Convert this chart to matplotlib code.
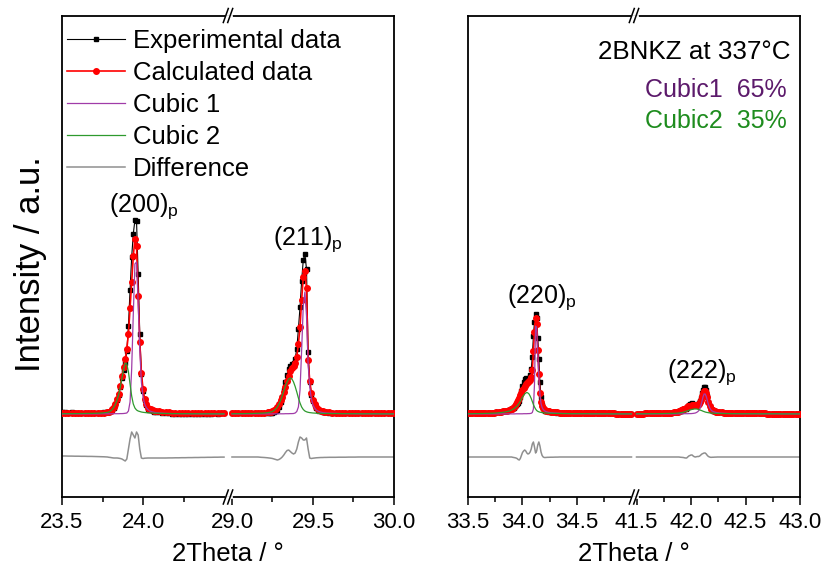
import numpy as np
import matplotlib
matplotlib.use('Agg')
import matplotlib.pyplot as plt
from matplotlib.lines import Line2D

MAIN = 'Liberation Sans'
plt.rcParams['font.family'] = [MAIN, 'DejaVu Sans']
plt.rcParams['mathtext.fontset'] = 'custom'
plt.rcParams['mathtext.rm'] = MAIN
plt.rcParams['mathtext.it'] = MAIN + ':italic'


def grid(a, b, c, d, e, f):
    return np.round(np.concatenate([np.arange(a, b + 1e-6, 0.02),
                                    np.arange(c, d + 1e-6, 0.01),
                                    np.arange(e, f + 1e-6, 0.02)]), 2)


# ---------------- data: (200) region, 23.5-24.5 ----------------
theta_200 = grid(23.50, 23.76, 23.78, 24.08, 24.10, 24.50)
exp_200 = [1.6, 1.6, 1.5, 1.6, 1.5, 1.5, 1.5, 1.5, 1.5, 1.5, 1.5, 1.5, 1.5, 1.7,
           1.9, 2.0, 2.9, 4.2, 6.4, 9.5, 14.0, 19.3, 26.8, 35.7,
           44.0, 51.0, 63.0, 88.0, 124, 157, 180, 194, 193, 140,
           80, 40, 23.5, 13.8, 8.9, 5.5, 4.5, 3.8, 3.0, 2.5, 2.2,
           1.6, 1.2, 0.9, 0.7, 0.5, 0.5, 0.4, 0.4, 0.4, 0.4, 0.4, 0.4, 0.4, 0.5, 0.4,
           0.5, 0.5, 0.6, 0.5, 0.6, 0.6]
calc_200 = [0.6, 0.6, 0.6, 0.7, 0.7, 0.7, 0.8, 0.8, 0.9, 0.9, 1.0, 1.1, 1.2, 1.5,
            1.9, 2.3, 3.4, 5.0, 7.4, 10.5, 15.0, 20.5, 28.3, 37.7,
            47.0, 55.0, 65.0, 80.0, 106, 132, 158, 175, 168, 118,
            72, 41, 25, 15, 10, 6.5, 5.5, 4.8, 4.0, 3.5, 3.2,
            2.6, 2.2, 1.9, 1.6, 1.4, 1.3, 1.2, 1.1, 1.1, 1.0, 1.0, 0.9, 0.9, 0.9, 0.8,
            0.8, 0.8, 0.8, 0.7, 0.7, 0.7]
cubic1_200 = [0.1, 0.1, 0.1, 0.1, 0.1, 0.1, 0.1, 0.1, 0.1, 0.1, 0.1, 0.1, 0.2, 0.2,
              0.2, 0.2, 0.2, 0.2, 0.3, 0.3, 0.3, 0.3, 0.4, 0.4,
              0.5, 0.7, 1.0, 3.0, 12, 45, 100, 150, 152, 112,
              64, 32, 17, 10, 6.5, 4.5, 3.2, 2.5, 2.0, 1.6, 1.3,
              1.0, 0.8, 0.6, 0.5, 0.4, 0.35, 0.3, 0.3, 0.25, 0.2, 0.2, 0.2, 0.2, 0.15, 0.15,
              0.15, 0.1, 0.1, 0.1, 0.1, 0.1]
cubic2_200 = [0.3, 0.3, 0.3, 0.4, 0.4, 0.4, 0.5, 0.5, 0.6, 0.6, 0.7, 0.8, 0.9, 1.2,
              1.6, 2.0, 3.0, 4.5, 6.8, 9.8, 14, 19.5, 27, 36,
              44.5, 51, 50, 42, 30, 18, 10, 6, 4, 3,
              2.5, 2.0, 1.7, 1.5, 1.3, 1.2, 1.1, 1.0, 0.9, 0.8, 0.8,
              0.7, 0.6, 0.5, 0.5, 0.4, 0.4, 0.35, 0.3, 0.3, 0.3, 0.25, 0.25, 0.2, 0.2, 0.2,
              0.2, 0.2, 0.15, 0.15, 0.15, 0.1]
diff_200 = [1.0, 1.0, 0.9, 0.9, 0.8, 0.8, 0.7, 0.7, 0.6, 0.6, 0.5, 0.4, 0.3, 0.2,
            0.0, -0.3, -0.5, -0.8, -1.0, -1.0, -1.0, -1.2, -1.5, -2.0,
            -3.0, -4.0, -2.0, 8.0, 18.0, 25.0, 22.0, 19.0, 25.0, 22.0,
            8.0, -1.0, -1.5, -1.2, -1.1, -1.0, -1.0, -1.0, -1.0, -1.0, -1.0,
            -1.0, -1.0, -1.0, -0.9, -0.9, -0.8, -0.8, -0.7, -0.7, -0.6, -0.6, -0.5, -0.5, -0.4, -0.4,
            -0.3, -0.3, -0.2, -0.2, -0.1, -0.1]

# ---------------- data: (211) region, 29.0-30.0 ----------------
theta_211 = grid(29.00, 29.20, 29.22, 29.58, 29.60, 30.00)
exp_211 = [0.6, 0.6, 0.6, 0.7, 0.7, 0.8, 0.8, 0.9, 1.0, 0.8, 0.7,
           0.8, 0.9, 1.1, 1.5, 2.0, 3.0, 4.5, 7.5, 12.5, 17.5,
           24.0, 32.0, 39.5, 45.0, 48.5, 50.0, 51.5, 55.5, 65.0, 85.0,
           107, 133, 154, 160, 145, 62, 32, 19.5, 12.8, 9.0,
           6.2, 4.5, 3.4, 2.7, 2.2, 1.9, 1.6,
           1.4, 1.2, 1.1, 1.1, 1.0, 0.9, 0.9, 0.9, 0.8, 0.9, 0.9, 0.8, 0.8, 0.8, 0.7,
           0.7, 0.7, 0.7, 0.6, 0.6, 0.6]
calc_211 = [0.6, 0.6, 0.6, 0.7, 0.7, 0.8, 0.8, 0.9, 1.0, 1.1, 1.2,
            1.6, 1.9, 2.3, 3.0, 4.0, 5.5, 7.5, 10.0, 14.0, 17.5,
            22.0, 27.5, 33.0, 38.0, 43.0, 46.0, 48.5, 51.5, 57.0, 70.0,
            87, 114, 137, 143, 126, 54, 33, 21, 14, 10,
            7.0, 5.2, 4.0, 3.2, 2.7, 2.3, 2.0,
            1.7, 1.5, 1.4, 1.3, 1.2, 1.1, 1.0, 1.0, 0.9, 0.9, 0.9, 0.8, 0.8, 0.8, 0.7,
            0.7, 0.7, 0.7, 0.6, 0.6, 0.6]
cubic1_211 = [0.1, 0.1, 0.1, 0.1, 0.1, 0.1, 0.1, 0.1, 0.1, 0.1, 0.1,
              0.1, 0.1, 0.1, 0.1, 0.1, 0.1, 0.2, 0.2, 0.2, 0.2,
              0.2, 0.3, 0.3, 0.3, 0.4, 0.4, 0.5, 1.0, 2.5, 7.0,
              24, 64, 108, 122, 98, 50, 27, 15, 9, 6,
              4.0, 3.0, 2.3, 1.8, 1.4, 1.2, 1.0,
              0.8, 0.7, 0.6, 0.5, 0.4, 0.35, 0.3, 0.3, 0.25, 0.2, 0.2, 0.2, 0.2, 0.15, 0.15,
              0.15, 0.1, 0.1, 0.1, 0.1, 0.1]
cubic2_211 = [0.3, 0.3, 0.3, 0.4, 0.4, 0.5, 0.5, 0.6, 0.7, 0.8, 1.0,
              1.3, 1.6, 2.0, 2.5, 3.5, 5.0, 7.0, 10.0, 13.5, 18.0,
              23, 28, 32, 35, 36, 35, 32, 27.5, 22, 16,
              11, 7, 4.5, 3.0, 2.2, 1.7, 1.4, 1.2, 1.0, 0.9,
              0.8, 0.7, 0.7, 0.6, 0.6, 0.5, 0.5,
              0.5, 0.4, 0.4, 0.4, 0.35, 0.3, 0.3, 0.3, 0.25, 0.25, 0.2, 0.2, 0.2, 0.2, 0.2,
              0.15, 0.15, 0.15, 0.1, 0.1, 0.1]
diff_211 = [0, 0, 0, 0, 0, 0, 0, 0, 0, -0.3, -0.5,
            -0.8, -1.0, -1.2, -1.5, -2.0, -2.5, -3.0, -2.5, -1.5, 0.0,
            2.0, 4.5, 6.5, 7.0, 5.5, 4.0, 3.0, 4.0, 8.0, 15.0,
            20.0, 19.0, 17.0, 17.0, 19.0, 8.0, -1.0, -1.5, -1.2, -1.0,
            -0.8, -0.7, -0.6, -0.5, -0.5, -0.4, -0.4,
            -0.3, -0.3, -0.3, -0.2, -0.2, -0.2, -0.1, -0.1, -0.1, 0, 0, 0, 0, 0, 0,
            0, 0, 0, 0, 0, 0]

# ---------------- data: (220) region, 33.5-35.0 ----------------
theta_220 = grid(33.50, 33.86, 33.88, 34.24, 34.26, 35.00)
exp_220 = [0.6, 0.6, 0.6, 0.7, 0.7, 0.8, 0.8, 0.9, 1.0, 1.1, 1.2, 1.3, 1.5, 1.7, 2.0, 2.3, 2.6, 3.0, 3.5,
           4.2, 4.6, 5.2, 5.7, 6.5, 7.8, 9.0, 10.5, 11.5, 13.5,
           17.5, 23.0, 28.5, 32.0, 35.5, 36.0, 35.0, 35.0, 36.5, 39.5,
           45.0, 57.0, 78.0, 92.0, 100.0, 96.0, 76.0, 55.0, 32.0, 17.0,
           9.5, 6.0, 4.3, 3.5, 3.0, 2.7, 2.4,
           2.1, 1.8, 1.7, 1.5, 1.5, 1.4, 1.3, 1.2, 1.1, 1.1,
           1.0, 1.0, 0.9, 0.9, 0.9, 0.8, 0.8, 0.8, 0.8, 0.7,
           0.7, 0.7, 0.7, 0.7, 0.6, 0.6, 0.6, 0.6, 0.6, 0.6,
           0.5, 0.5, 0.5, 0.5, 0.5, 0.5, 0.5, 0.5]
calc_220 = [0.6, 0.6, 0.6, 0.7, 0.7, 0.8, 0.8, 0.9, 1.0, 1.1, 1.2, 1.3, 1.5, 1.7, 2.0, 2.3, 2.6, 3.0, 3.5,
            4.2, 4.6, 5.2, 6.0, 7.0, 8.5, 10.0, 12.0, 14.0, 16.5,
            19.0, 21.5, 24.0, 26.0, 28.5, 30.0, 31.0, 32.0, 33.0, 34.5,
            37.0, 44.0, 63.0, 82.0, 96.0, 90.0, 64.0, 40.0, 21.0, 12.0,
            8.0, 6.0, 4.8, 4.0, 3.4, 3.0, 2.7,
            2.3, 2.0, 1.8, 1.6, 1.5, 1.4, 1.3, 1.2, 1.1, 1.1,
            1.0, 1.0, 0.9, 0.9, 0.9, 0.8, 0.8, 0.8, 0.8, 0.7,
            0.7, 0.7, 0.7, 0.7, 0.6, 0.6, 0.6, 0.6, 0.6, 0.6,
            0.5, 0.5, 0.5, 0.5, 0.5, 0.5, 0.5, 0.5]
cubic1_220 = [0.1, 0.1, 0.1, 0.1, 0.1, 0.1, 0.1, 0.1, 0.1, 0.1, 0.1, 0.1, 0.1, 0.1, 0.1, 0.1, 0.1, 0.1, 0.1,
              0.1, 0.1, 0.1, 0.1, 0.1, 0.1, 0.2, 0.2, 0.2, 0.2,
              0.2, 0.2, 0.2, 0.3, 0.3, 0.3, 0.3, 0.4, 0.4, 0.5,
              0.7, 1.5, 5.0, 30.0, 88.0, 86.0, 60.0, 37.0, 19.0, 10.5,
              6.5, 4.5, 3.4, 2.7, 2.2, 1.9, 1.6,
              1.3, 1.1, 0.9, 0.8, 0.7, 0.6, 0.5, 0.5, 0.4, 0.4,
              0.3, 0.3, 0.3, 0.3, 0.3, 0.3, 0.3, 0.3, 0.2, 0.2,
              0.2, 0.2, 0.2, 0.2, 0.2, 0.2, 0.2, 0.2, 0.1, 0.1,
              0.1, 0.1, 0.1, 0.1, 0.1, 0.1, 0.1, 0.1]
cubic2_220 = [0.3, 0.3, 0.3, 0.4, 0.4, 0.4, 0.5, 0.5, 0.6, 0.6, 0.7, 0.8, 0.9, 1.0, 1.2, 1.4, 1.7, 2.0, 2.5,
              3.0, 3.4, 4.0, 4.6, 5.3, 6.0, 7.0, 8.0, 9.5, 11.0,
              13, 15, 17, 18.5, 20, 21, 21.5, 21, 20, 18,
              15.5, 12.5, 9.5, 7.0, 5.0, 3.5, 2.7, 2.2, 1.8, 1.6,
              1.4, 1.3, 1.1, 1.0, 0.95, 0.9, 0.85,
              0.8, 0.7, 0.6, 0.55, 0.5, 0.45, 0.4, 0.4, 0.35, 0.35,
              0.3, 0.3, 0.3, 0.3, 0.3, 0.3, 0.3, 0.3, 0.2, 0.2,
              0.2, 0.2, 0.2, 0.2, 0.2, 0.2, 0.2, 0.2, 0.1, 0.1,
              0.1, 0.1, 0.1, 0.1, 0.1, 0.1, 0.1, 0.1]
diff_220 = [0, 0, 0, 0, 0, 0, 0, 0, 0, 0, 0, 0, 0, 0, 0, 0, 0, 0, 0,
            0, 0, 0, -0.3, -0.5, -0.7, -1.0, -1.5, -2.5, -3.0,
            -1.5, 1.5, 4.5, 6.0, 7.0, 6.0, 4.0, 3.0, 3.5, 5.0,
            8.0, 13.0, 15.0, 10.0, 4.0, 6.0, 12.0, 15.0, 11.0, 5.0,
            1.5, 0, -0.5, -0.5, -0.4, -0.3, -0.3,
            -0.2, -0.2, -0.1, -0.1, 0, 0, 0, 0, 0, 0,
            0, 0, 0, 0, 0, 0, 0, 0, 0, 0,
            0, 0, 0, 0, 0, 0, 0, 0, 0, 0,
            0, 0, 0, 0, 0, 0, 0, 0]

# ---------------- data: (222) region, 41.5-43.0 ----------------
theta_222 = grid(41.50, 41.86, 41.88, 42.24, 42.26, 43.00)
exp_222 = [0.5, 0.5, 0.5, 0.5, 0.6, 0.6, 0.6, 0.7, 0.7, 0.8, 0.8, 0.9, 1.0, 1.1, 1.2, 1.3, 1.5, 1.7, 2.0,
           2.5, 2.8, 3.0, 3.3, 3.6, 4.2, 4.7, 5.2, 6.0, 7.6,
           9.0, 9.8, 10.5, 10.6, 9.7, 9.1, 8.9, 9.3, 10.0, 11.0,
           13.0, 16.5, 21.0, 24.5, 27.0, 27.0, 24.0, 18.5, 12.5, 8.0,
           5.2, 4.2, 3.5, 3.0, 2.7, 2.4, 2.3,
           1.9, 1.6, 1.4, 1.3, 1.2, 1.1, 1.0, 1.0, 0.9, 0.9,
           0.8, 0.8, 0.8, 0.7, 0.7, 0.7, 0.7, 0.6, 0.6, 0.6,
           0.6, 0.6, 0.5, 0.5, 0.5, 0.5, 0.5, 0.5, 0.5, 0.5,
           0.4, 0.4, 0.4, 0.4, 0.4, 0.4, 0.4, 0.4]
calc_222 = [0.5, 0.5, 0.5, 0.5, 0.6, 0.6, 0.6, 0.7, 0.7, 0.8, 0.8, 0.9, 1.0, 1.1, 1.2, 1.3, 1.5, 1.7, 2.0,
            2.5, 2.8, 3.2, 3.6, 4.0, 4.7, 5.5, 6.2, 7.0, 7.6,
            8.0, 8.3, 8.5, 8.6, 8.7, 8.8, 8.9, 9.0, 9.5, 10.5,
            12.0, 14.5, 18.0, 21.0, 23.0, 23.0, 21.0, 17.0, 12.0, 8.0,
            5.5, 4.5, 3.7, 3.2, 2.8, 2.5, 2.3,
            1.9, 1.6, 1.4, 1.3, 1.2, 1.1, 1.0, 1.0, 0.9, 0.9,
            0.8, 0.8, 0.8, 0.7, 0.7, 0.7, 0.7, 0.6, 0.6, 0.6,
            0.6, 0.6, 0.5, 0.5, 0.5, 0.5, 0.5, 0.5, 0.5, 0.5,
            0.4, 0.4, 0.4, 0.4, 0.4, 0.4, 0.4, 0.4]
cubic1_222 = [0.1, 0.1, 0.1, 0.1, 0.1, 0.1, 0.1, 0.1, 0.1, 0.1, 0.1, 0.1, 0.1, 0.1, 0.1, 0.1, 0.1, 0.1, 0.1,
              0.2, 0.2, 0.2, 0.2, 0.2, 0.2, 0.3, 0.3, 0.3, 0.3,
              0.4, 0.4, 0.4, 0.5, 0.6, 0.8, 1.0, 1.5, 2.2, 3.2,
              5.0, 8.0, 12.5, 17.0, 20.0, 20.0, 17.5, 13.5, 9.5, 6.5,
              4.5, 3.3, 2.6, 2.2, 1.8, 1.5, 1.3,
              1.0, 0.8, 0.7, 0.6, 0.5, 0.45, 0.4, 0.35, 0.3, 0.3,
              0.25, 0.25, 0.25, 0.25, 0.25, 0.25, 0.25, 0.25, 0.2, 0.2,
              0.2, 0.2, 0.2, 0.2, 0.2, 0.2, 0.2, 0.2, 0.1, 0.1,
              0.1, 0.1, 0.1, 0.1, 0.1, 0.1, 0.1, 0.1]
cubic2_222 = [0.2, 0.2, 0.2, 0.2, 0.25, 0.25, 0.3, 0.3, 0.3, 0.35, 0.35, 0.4, 0.45, 0.5, 0.55, 0.6, 0.65, 0.7, 0.75,
              0.9, 1.0, 1.2, 1.35, 1.5, 1.8, 2.1, 2.5, 2.9, 3.3,
              3.7, 4.0, 4.3, 4.6, 4.8, 5.0, 5.0, 5.0, 4.8, 4.5,
              4.1, 3.7, 3.3, 2.8, 2.4, 2.0, 1.7, 1.5, 1.3, 1.1,
              1.0, 0.9, 0.8, 0.75, 0.7, 0.65, 0.6,
              0.55, 0.5, 0.45, 0.4, 0.4, 0.35, 0.35, 0.3, 0.3, 0.3,
              0.25, 0.25, 0.25, 0.25, 0.25, 0.25, 0.25, 0.25, 0.2, 0.2,
              0.2, 0.2, 0.2, 0.2, 0.2, 0.2, 0.2, 0.2, 0.1, 0.1,
              0.1, 0.1, 0.1, 0.1, 0.1, 0.1, 0.1, 0.1]
diff_222 = [0, 0, 0, 0, 0, 0, 0, 0, 0, 0, 0, 0, 0, 0, 0, 0, 0, 0, 0,
            0, 0, -0.2, -0.3, -0.4, -0.5, -0.8, -1.0, -1.0, 0.0,
            1.0, 1.5, 2.0, 2.0, 1.0, 0.3, 0.0, 0.3, 0.5, 0.5,
            1.0, 2.0, 3.0, 3.5, 4.0, 4.0, 3.0, 1.5, 0.5, 0.0,
            -0.3, -0.3, -0.2, -0.2, -0.1, -0.1, 0.0,
            0, 0, 0, 0, 0, 0, 0, 0, 0, 0,
            0, 0, 0, 0, 0, 0, 0, 0, 0, 0,
            0, 0, 0, 0, 0, 0, 0, 0, 0, 0,
            0, 0, 0, 0, 0, 0, 0, 0]

# axis ranges / ticks
left_ranges = (23.5, 24.5, 29.0, 30.0)
right_ranges = (33.5, 35.0, 41.5, 43.0)
left_major = [23.5, 24.0, 29.0, 29.5, 30.0]
left_minor = [23.75, 24.25, 29.25, 29.75]
right_major = [33.5, 34.0, 34.5, 41.5, 42.0, 42.5, 43.0]
right_minor = [33.75, 34.25, 34.75, 41.75, 42.25, 42.75]
peak_labels = ['(200)', '(211)', '(220)', '(222)']
phase_text = ['Cubic1  65%', 'Cubic2  35%']
legend_labels = ['Experimental data', 'Calculated data', 'Cubic 1', 'Cubic 2', 'Difference']

DIFF_OFFSET = -43
C_EXP, C_CALC, C_C1, C_C2, C_DIFF = 'black', '#ff0000', '#a03ca8', '#2e9a2e', '#8f8f8f'


def broken_scale(lo1, hi1, lo2, hi2, gap):
    w1 = hi1 - lo1

    def fwd(x):
        x = np.asarray(x, float)
        return np.where(x <= hi1, x - lo1,
                        np.where(x >= lo2, x - lo2 + w1 + gap,
                                 w1 + gap * (x - hi1) / (lo2 - hi1)))

    def inv(u):
        u = np.asarray(u, float)
        return np.where(u <= w1, u + lo1,
                        np.where(u >= w1 + gap, u - w1 - gap + lo2,
                                 hi1 + (u - w1) / gap * (lo2 - hi1)))
    return fwd, inv


W, H = 824, 574
fig = plt.figure(figsize=(W / 100, H / 100), dpi=100)
ax_h = 481.5 / H
axL = fig.add_axes([62 / W, 77 / H, 332 / W, ax_h])
axR = fig.add_axes([468 / W, 77 / H, 332 / W, ax_h])


def draw_segment(ax, th, ex, ca, c1, c2, df):
    ax.plot(th, ex, color=C_EXP, lw=0.8, marker='s', ms=2.8, zorder=2)
    ax.plot(th, ca, color=C_CALC, lw=1.2, marker='o', ms=4.0, zorder=3)
    ax.plot(th, c1, color=C_C1, lw=0.9, zorder=4)
    ax.plot(th, c2, color=C_C2, lw=0.9, zorder=4)
    ax.plot(th, np.asarray(df) + DIFF_OFFSET, color=C_DIFF, lw=1.1, zorder=2)


def setup(ax, rng, major, minor, gap):
    fwd, inv = broken_scale(*rng, gap)
    ax.set_xscale('function', functions=(fwd, inv))
    ax.set_xlim(rng[0], rng[3])
    ax.set_ylim(-83, 398.5)
    ax.set_yticks([])
    ax.set_xticks(major)
    ax.set_xticklabels(['%.1f' % v for v in major], fontsize=16)
    ax.set_xticks(minor, minor=True)
    ax.tick_params(axis='x', which='major', direction='out', length=6, width=1.1, pad=5)
    ax.tick_params(axis='x', which='minor', direction='out', length=3.5, width=1.1)
    for s in ax.spines.values():
        s.set_linewidth(1.3)
    # break marks
    xm = (rng[1] - rng[0] + gap / 2) / (rng[1] - rng[0] + gap + rng[3] - rng[2])
    pw, ph = 1 / 332, 1 / 481.5
    for yb in (0.0, 1.0):
        ax.plot([xm - 2.5 * pw, xm + 2.5 * pw], [yb, yb], color='white', lw=2.0,
                transform=ax.transAxes, clip_on=False, zorder=10)
        for dx in (-2.2, 2.2):
            ax.plot([xm + (dx - 2.5) * pw, xm + (dx + 2.5) * pw],
                    [yb - 7 * ph, yb + 7 * ph], color='black', lw=1.1,
                    transform=ax.transAxes, clip_on=False, zorder=11)
    ax.set_xlabel('2Theta / °', fontsize=18.5, labelpad=6)


draw_segment(axL, theta_200, exp_200, calc_200, cubic1_200, cubic2_200, diff_200)
draw_segment(axL, theta_211, exp_211, calc_211, cubic1_211, cubic2_211, diff_211)
draw_segment(axR, theta_220, exp_220, calc_220, cubic1_220, cubic2_220, diff_220)
draw_segment(axR, theta_222, exp_222, calc_222, cubic1_222, cubic2_222, diff_222)

setup(axL, left_ranges, left_major, left_minor, 0.049)
setup(axR, right_ranges, right_major, right_minor, 0.046)

# peak labels
for ax, (tx, ty), lab in [(axL, (23.79, 202), peak_labels[0]),
                          (axL, (29.253, 169), peak_labels[1]),
                          (axR, (33.858, 111), peak_labels[2]),
                          (axR, (41.776, 36), peak_labels[3])]:
    ax.text(tx, ty, lab + r'$_{\mathrm{p}}$', fontsize=18, ha='left', va='baseline')

# legend
handles = [Line2D([], [], color=C_EXP, lw=0.8, marker='s', ms=2.8),
           Line2D([], [], color=C_CALC, lw=1.2, marker='o', ms=4.0),
           Line2D([], [], color=C_C1, lw=0.9),
           Line2D([], [], color=C_C2, lw=0.9),
           Line2D([], [], color=C_DIFF, lw=1.1)]
axL.legend(handles, legend_labels, loc='upper left', bbox_to_anchor=(0.015, 0.972),
           frameon=False, fontsize=18.5, numpoints=1, handlelength=2.26,
           handletextpad=0.31, labelspacing=0.31, borderpad=0, borderaxespad=0)

# annotation texts
axR.text(0.97, 0.924, '2BNKZ at 337°C', transform=axR.transAxes, ha='right',
         va='center', fontsize=18.7)
axR.text(0.961, 0.845, phase_text[0], transform=axR.transAxes, ha='right',
         va='center', fontsize=18, color='#5c1a6b')
axR.text(0.961, 0.781, phase_text[1], transform=axR.transAxes, ha='right',
         va='center', fontsize=18, color='#1e8c1e')

fig.text(31 / W, 1 - 264 / H, 'Intensity / a.u.', rotation=90, ha='center',
         va='center', fontsize=25)

fig.savefig('out.png', dpi=100)
